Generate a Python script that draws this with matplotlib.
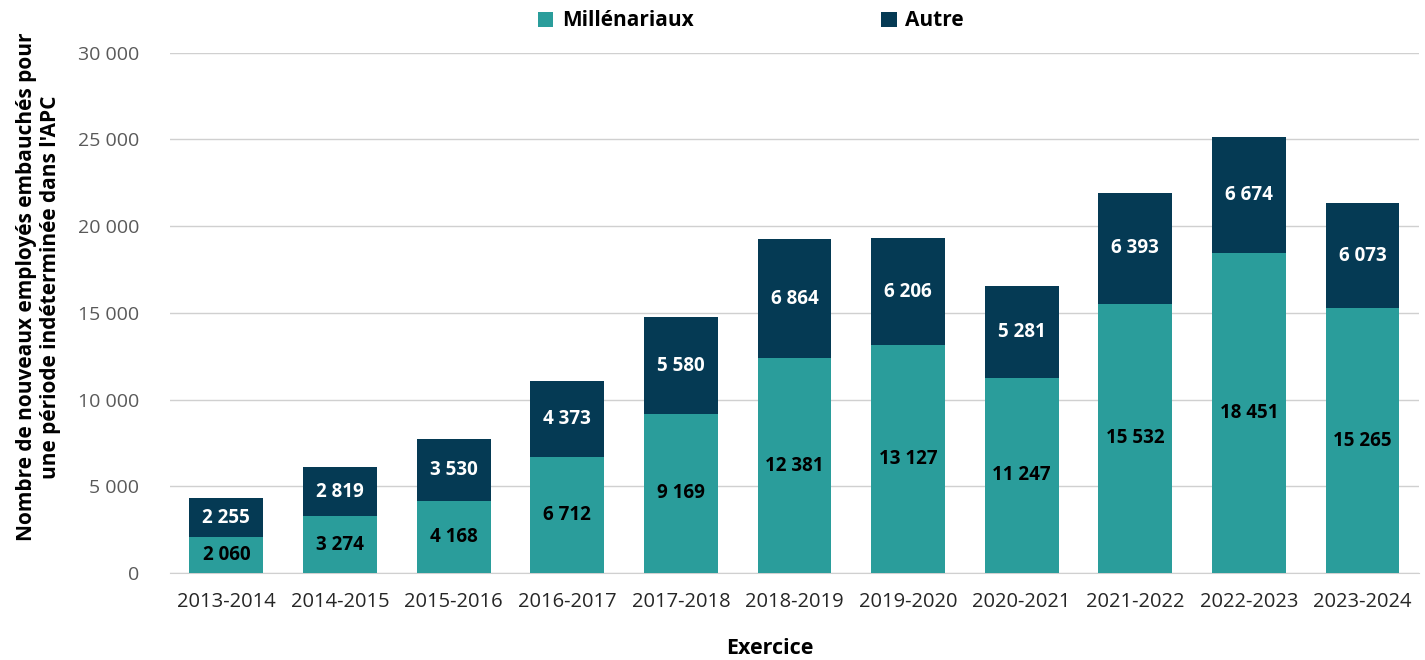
import numpy as np
import matplotlib.pyplot as plt

plt.rcParams['font.family'] = ['Open Sans', 'DejaVu Sans']

years = ['2013-2014', '2014-2015', '2015-2016', '2016-2017', '2017-2018', '2018-2019',
         '2019-2020', '2020-2021', '2021-2022', '2022-2023', '2023-2024']
millenariaux = [2060, 3274, 4168, 6712, 9169, 12381, 13127, 11247, 15532, 18451, 15265]
autre = [2255, 2819, 3530, 4373, 5580, 6864, 6206, 5281, 6393, 6674, 6073]

teal = '#2A9D9B'
navy = '#053A54'


def fmt(v):
    # espace comme séparateur de milliers
    return f"{v:,}".replace(',', ' ')


fig = plt.figure(figsize=(14.25, 6.6), dpi=100)
ax = fig.add_axes([0.119, 0.132, 0.877, 0.788])

x = np.arange(len(years))
w = 0.65
ax.bar(x, millenariaux, w, color=teal, label='Millénariaux', zorder=3)
ax.bar(x, autre, w, bottom=millenariaux, color=navy, label='Autre', zorder=3)

for i in range(len(years)):
    ax.text(x[i], millenariaux[i] / 2, fmt(millenariaux[i]), ha='center', va='center',
            fontsize=13.5, fontweight='bold', color='black', zorder=4)
    ax.text(x[i], millenariaux[i] + autre[i] / 2, fmt(autre[i]), ha='center', va='center',
            fontsize=13.5, fontweight='bold', color='white', zorder=4)

ax.set_xlim(-0.5, len(years) - 0.5)
ax.set_ylim(0, 30000)
ax.set_yticks(range(0, 30001, 5000))
ax.set_yticklabels([fmt(v) for v in range(0, 30001, 5000)], fontsize=14, color='#595959')
ax.set_xticks(x)
ax.set_xticklabels(years, fontsize=14.5, color='#262626')
ax.tick_params(axis='both', length=0)
ax.tick_params(axis='y', pad=22)
ax.tick_params(axis='x', pad=14)

ax.grid(axis='y', color='#D0D0D0', linewidth=1, zorder=0)
for s in ['top', 'right', 'left']:
    ax.spines[s].set_visible(False)
ax.spines['bottom'].set_color('#D0D0D0')

ax.set_xlabel('Exercice', fontsize=15.5, fontweight='bold')
ax.xaxis.set_label_coords(0.48, -0.125)
ax.set_ylabel("Nombre de nouveaux employés embauchés pour\nune période indéterminée dans l'APC",
              fontsize=15, fontweight='bold')
ax.yaxis.set_label_coords(-0.087, 0.55)

ax.legend(loc='lower center', bbox_to_anchor=(0.465, 1.005), ncol=2, frameon=False,
          prop={'weight': 'bold', 'size': 15}, handlelength=0.75, handleheight=0.75,
          columnspacing=9, handletextpad=0.4)

fig.savefig('out.png', dpi=100)
